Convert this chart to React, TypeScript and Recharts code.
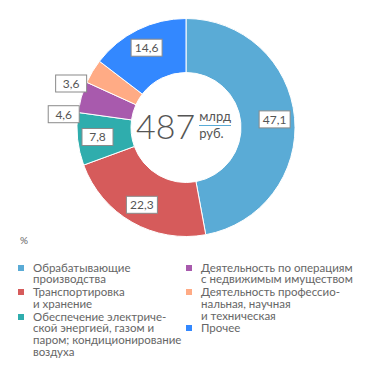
import { PieChart, Pie, Cell } from "recharts";

const categories = [
  "Обрабатывающие\nпроизводства",
  "Транспортировка\nи хранение",
  "Обеспечение электриче-\nской энергией, газом и\nпаром; кондиционирование\nвоздуха",
  "Деятельность по операциям\nс недвижимым имуществом",
  "Деятельность профессио-\nнальная, научная\nи техническая",
  "Прочее",
];
const shares = [47.1, 22.3, 7.8, 4.6, 3.6, 14.6];
const colors = ["#5aabd6", "#d65b5b", "#2fadad", "#a85aad", "#ffab85", "#3388ff"];
const total = "487";
const unitTop = "млрд";
const unitBottom = "руб.";
const unitLabel = "%";

const data = categories.map((name, i) => ({ name, value: shares[i] }));

const FONT = "Lato, 'Open Sans', sans-serif";
const RADIAN = Math.PI / 180;
const CX = 186;
const CY = 127.5;

function fmt(v: number): string {
  return v.toFixed(1).replace(".", ",");
}

// small slices get their box pushed outside and a bit round the ring
function renderLabel(props: any) {
  const { cx, cy, midAngle, value } = props;
  const small = value < 5;
  const angle = (small ? midAngle + 10 : midAngle) * RADIAN;
  const r = small ? 123 : 89;
  const x = cx + r * Math.cos(angle);
  const y = cy - r * Math.sin(angle);
  const w = 31;
  const h = 17;
  return (
    <g>
      <rect
        x={x - w / 2}
        y={y - h / 2}
        width={w}
        height={h}
        fill="#fff"
        stroke="#8a8a8a"
        strokeWidth={1}
      />
      <text
        x={x}
        y={y + 4.5}
        textAnchor="middle"
        fontSize={12}
        fill="#555"
        fontFamily={FONT}
      >
        {fmt(value)}
      </text>
    </g>
  );
}

function LegendItem({ i }: { i: number }) {
  const lines = categories[i].split("\n");
  return (
    <div style={{ position: "relative", paddingLeft: 15, marginBottom: 1 }}>
      <span
        style={{
          position: "absolute",
          left: 0,
          top: 3,
          width: 6,
          height: 6,
          background: colors[i],
        }}
      />
      {lines.map((l, k) => (
        <div key={k}>{l}</div>
      ))}
    </div>
  );
}

export default function App() {
  return (
    <div
      style={{
        position: "absolute",
        left: 0,
        top: 0,
        width: 371,
        height: 373,
        background: "#fff",
        fontFamily: FONT,
      }}
    >
      <PieChart width={371} height={240} margin={{ top: 0, right: 0, bottom: 0, left: 0 }}>
        <Pie
          data={data}
          dataKey="value"
          nameKey="name"
          cx={CX}
          cy={CY}
          innerRadius={55}
          outerRadius={109}
          startAngle={90}
          endAngle={-270}
          stroke="#fff"
          strokeWidth={1}
          label={renderLabel}
          labelLine={false}
          isAnimationActive={false}
        >
          {data.map((d, i) => (
            <Cell key={d.name} fill={colors[i]} />
          ))}
        </Pie>
      </PieChart>

      {/* centre caption */}
      <div style={{ position: "absolute", left: CX - 50, top: CY - 22, color: "#555", display: "flex" }}>
        <div style={{ fontSize: 34, fontWeight: 300, lineHeight: "40px" }}>{total}</div>
        <div style={{ marginLeft: 4, marginTop: 4, fontSize: 13, lineHeight: "13px" }}>
          <div style={{ borderBottom: "1.3px solid #5aabd6", paddingBottom: 2 }}>{unitTop}</div>
          <div style={{ paddingTop: 1 }}>{unitBottom}</div>
        </div>
      </div>

      <div
        style={{
          position: "absolute",
          top: 235,
          left: 0,
          width: 371,
          fontSize: 11.5,
          lineHeight: "11.7px",
          color: "#666",
        }}
      >
        <div style={{ marginLeft: 20, marginBottom: 15, fontSize: 10 }}>{unitLabel}</div>
        <div style={{ display: "flex" }}>
          <div style={{ width: 168, marginLeft: 18 }}>
            {[0, 1, 2].map((i) => (
              <LegendItem key={i} i={i} />
            ))}
          </div>
          <div style={{ width: 170 }}>
            {[3, 4, 5].map((i) => (
              <LegendItem key={i} i={i} />
            ))}
          </div>
        </div>
      </div>
    </div>
  );
}
